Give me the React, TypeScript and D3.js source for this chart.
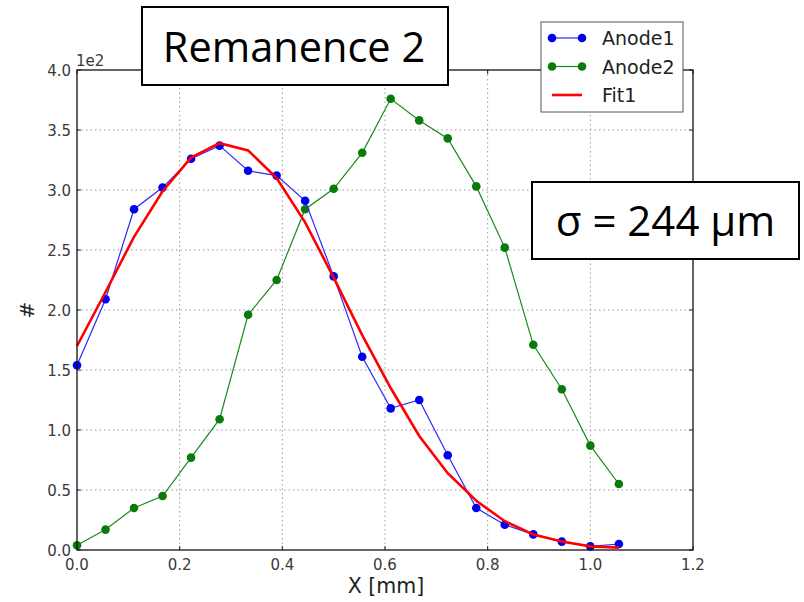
import React from "react";
import * as d3 from "d3";

// Sample positions along X (mm)
const xValues = [
  0, 0.0556, 0.1111, 0.1667, 0.2222, 0.2778, 0.3333, 0.3889, 0.4444, 0.5,
  0.5556, 0.6111, 0.6667, 0.7222, 0.7778, 0.8333, 0.8889, 0.9444, 1.0, 1.0556,
];
// Counts in units of 1e2
const anode1 = [
  1.54, 2.09, 2.84, 3.02, 3.26, 3.37, 3.16, 3.12, 2.91, 2.28,
  1.61, 1.18, 1.25, 0.79, 0.35, 0.21, 0.13, 0.07, 0.03, 0.05,
];
const anode2 = [
  0.04, 0.17, 0.35, 0.45, 0.77, 1.09, 1.96, 2.25, 2.84, 3.01,
  3.31, 3.76, 3.58, 3.43, 3.03, 2.52, 1.71, 1.34, 0.87, 0.55,
];
const fit1 = [
  1.70, 2.15, 2.61, 2.99, 3.27, 3.39, 3.33, 3.10, 2.73, 2.27,
  1.79, 1.35, 0.95, 0.64, 0.41, 0.24, 0.13, 0.07, 0.03, 0.02,
];
const xTicks = [0, 0.2, 0.4, 0.6, 0.8, 1.0, 1.2];
const yTicks = [0, 0.5, 1.0, 1.5, 2.0, 2.5, 3.0, 3.5, 4.0];
const seriesNames = ["Anode1", "Anode2", "Fit1"];
const titleText = "Remanence 2";
const sigmaText = "σ = 244 µm";

const W = 804;
const H = 602;
const left = 77;
const right = 693;
const top = 70;
const bottom = 550;

export default function App() {
  const x = d3.scaleLinear().domain([0, 1.2]).range([left, right]);
  const y = d3.scaleLinear().domain([0, 4]).range([bottom, top]);
  const line = d3
    .line<number>()
    .x((_, i) => x(xValues[i]))
    .y((d) => y(d));

  const tickFont = "'DejaVu Sans', sans-serif";
  const tickColor = "#3a3a3a";

  const lx = 541;
  const ly = 22;

  return (
    <svg
      width={W}
      height={H}
      style={{ position: "absolute", left: 0, top: 0, background: "#fff" }}
    >
      <rect x={0} y={0} width={W} height={H} fill="#fff" />
      {/* grid */}
      {xTicks.slice(1, -1).map((t) => (
        <line
          key={"gx" + t}
          x1={x(t)}
          x2={x(t)}
          y1={top}
          y2={bottom}
          stroke="#9a9a9a"
          strokeWidth={1}
          strokeDasharray="1.5,3"
        />
      ))}
      {yTicks.slice(1, -1).map((t) => (
        <line
          key={"gy" + t}
          x1={left}
          x2={right}
          y1={y(t)}
          y2={y(t)}
          stroke="#9a9a9a"
          strokeWidth={1}
          strokeDasharray="1.5,3"
        />
      ))}
      {/* inner tick marks */}
      {xTicks.map((t) => (
        <g key={"tx" + t}>
          <line x1={x(t)} x2={x(t)} y1={bottom} y2={bottom - 4} stroke="#222" />
          <line x1={x(t)} x2={x(t)} y1={top} y2={top + 4} stroke="#222" />
        </g>
      ))}
      {yTicks.map((t) => (
        <g key={"ty" + t}>
          <line x1={left} x2={left + 4} y1={y(t)} y2={y(t)} stroke="#222" />
          <line x1={right} x2={right - 4} y1={y(t)} y2={y(t)} stroke="#222" />
        </g>
      ))}
      {/* series */}
      <path d={line(anode2) || ""} fill="none" stroke="#1a8a1a" strokeWidth={1.2} />
      {anode2.map((v, i) => (
        <circle key={"g" + i} cx={x(xValues[i])} cy={y(v)} r={4.3} fill="#0a7a0a" />
      ))}
      <path d={line(anode1) || ""} fill="none" stroke="#2a2aff" strokeWidth={1.2} />
      {anode1.map((v, i) => (
        <circle key={"b" + i} cx={x(xValues[i])} cy={y(v)} r={4.3} fill="#0000ee" />
      ))}
      <path d={line(fit1) || ""} fill="none" stroke="#ff0000" strokeWidth={2.6} />
      {/* frame */}
      <rect x={left} y={top} width={right - left} height={bottom - top} fill="none" stroke="#111" strokeWidth={1.3} />
      {/* tick labels */}
      {xTicks.map((t) => (
        <text
          key={"lx" + t}
          x={x(t)}
          y={bottom + 20}
          textAnchor="middle"
          fontFamily={tickFont}
          fontSize={15}
          fill={tickColor}
        >
          {t.toFixed(1)}
        </text>
      ))}
      {yTicks.map((t) => (
        <text
          key={"ly" + t}
          x={left - 6}
          y={y(t) + 5.5}
          textAnchor="end"
          fontFamily={tickFont}
          fontSize={15}
          fill={tickColor}
        >
          {t.toFixed(1)}
        </text>
      ))}
      <text x={left - 1} y={top - 4} fontFamily={tickFont} fontSize={15} fill={tickColor}>
        1e2
      </text>
      <text
        x={386}
        y={593}
        textAnchor="middle"
        fontFamily={tickFont}
        fontSize={20.5}
        fill="#222"
      >
        X [mm]
      </text>
      <text
        transform={`translate(34, ${(top + bottom) / 2}) rotate(-90)`}
        textAnchor="middle"
        fontFamily={tickFont}
        fontSize={20}
        fill="#222"
      >
        #
      </text>
      {/* legend */}
      <rect x={lx} y={ly} width={142} height={90} fill="#fff" stroke="#555" strokeWidth={1} />
      {seriesNames.map((name, i) => {
        const cy = ly + 16 + i * 28.5;
        const color = i === 0 ? "#0000ee" : i === 1 ? "#0a7a0a" : "#ff0000";
        const lineColor = i === 0 ? "#2a2aff" : i === 1 ? "#1a8a1a" : "#ff0000";
        return (
          <g key={name}>
            <line
              x1={lx + 11}
              x2={lx + 41}
              y1={cy}
              y2={cy}
              stroke={lineColor}
              strokeWidth={i === 2 ? 2.6 : 1.2}
            />
            {i < 2 && (
              <>
                <circle cx={lx + 11} cy={cy} r={4.3} fill={color} />
                <circle cx={lx + 41} cy={cy} r={4.3} fill={color} />
              </>
            )}
            <text x={lx + 61} y={cy + 7} fontFamily={tickFont} fontSize={19} fill="#222">
              {name}
            </text>
          </g>
        );
      })}
      {/* annotation boxes */}
      <rect x={142} y={7} width={306} height={78} fill="#fff" stroke="#000" strokeWidth={2} />
      <text
        x={294}
        y={62}
        textAnchor="middle"
        fontFamily="'Open Sans', sans-serif"
        fontSize={41.5}
        fill="#000"
      >
        {titleText}
      </text>
      <rect x={532} y={182} width={267} height={77} fill="#fff" stroke="#000" strokeWidth={2} />
      <text
        x={665.5}
        y={236}
        textAnchor="middle"
        fontFamily="'Open Sans', sans-serif"
        fontSize={42}
        fill="#000"
      >
        {sigmaText}
      </text>
    </svg>
  );
}
